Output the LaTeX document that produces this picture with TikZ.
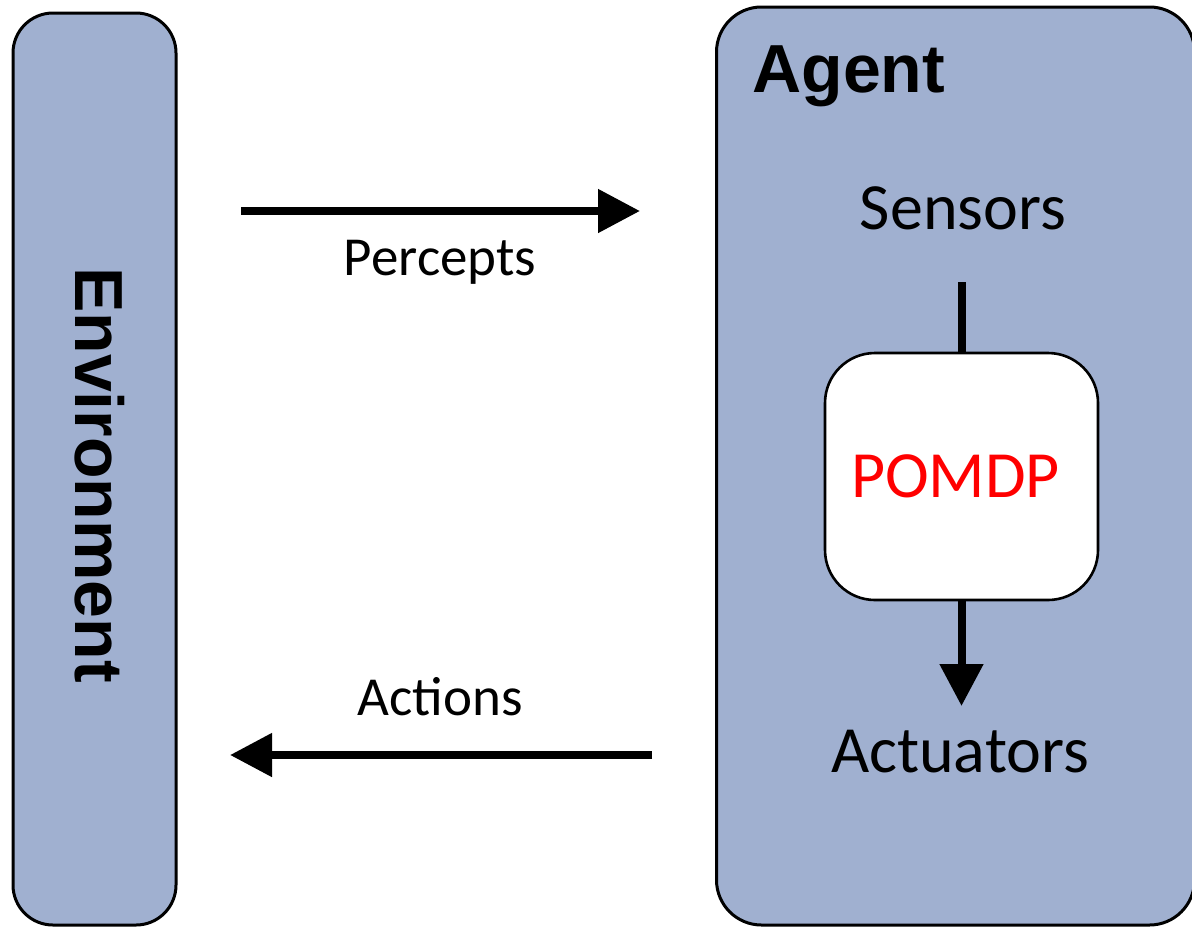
\documentclass[tikz,border=0pt]{standalone}
\usepackage{fontspec}
\setmainfont{Carlito}
\newfontfamily\headfont{Liberation Sans}
\usetikzlibrary{arrows.meta}
\definecolor{panel}{RGB}{160,176,208}
\tikzset{
  panelbox/.style={draw=black, line width=1.5pt, fill=panel, inner sep=0pt},
  heading/.style={font=\headfont\bfseries\fontsize{34pt}{37pt}\selectfont, inner sep=0pt},
  label/.style={font=\fontsize{33pt}{36pt}\selectfont, inner sep=0pt},
  flowlabel/.style={font=\fontsize{27.5pt}{30pt}\selectfont, inner sep=0pt},
  shaft/.style={line width=4pt},
  flow/.style={shaft, -{Triangle[length=21pt,width=21pt]}}
}
\begin{document}
\begin{tikzpicture}[x=0.5pt, y=-0.5pt]
  \useasboundingbox (0,0) rectangle (1192,927);
  \begin{scope}
  \clip (0,0) rectangle (1192,927);

  % the two blocks
  \node[panelbox, rounded corners=20pt, minimum width=81.5pt, minimum height=456pt]
    (env) at (94.5,469) {};
  \node[panelbox, rounded corners=22.5pt, minimum width=239pt, minimum height=459pt]
    (agent) at (955.5,466) {};

  \node[heading, rotate=-90] (envtitle) at (100,475) {Environment};
  \node[heading, anchor=base west] (agenttitle) at (752,92) {Agent};

  % inside the agent
  \node[label] (sensors) at (963,208) {Sensors};
  \node[draw=black, line width=1.3pt, fill=white, rounded corners=25pt,
        minimum width=136.5pt, minimum height=123.5pt, inner sep=0pt,
        font=\fontsize{33pt}{36pt}\selectfont, text=red]
    (pomdp) at (961.5,476.5) {\hspace*{-6pt}\raisebox{-2.5pt}{POMDP}};
  \node[label] (actuators) at (960,752) {Actuators};

  \coordinate (sensout) at (961.5,282);
  \coordinate (acttip) at (961.5,706);
  \draw[shaft] (sensout) -- (pomdp.north);
  \draw[flow] (pomdp.south) -- (acttip);

  % exchange with the environment
  \coordinate (perceptsfrom) at (241,211);
  \coordinate (perceptsto) at (640,211);
  \coordinate (actionsfrom) at (652,755);
  \coordinate (actionsto) at (230,755);
  \draw[flow] (perceptsfrom) -- (perceptsto);
  \draw[flow] (actionsfrom) -- (actionsto);
  \node[flowlabel] (percepts) at (440,262) {Percepts};
  \node[flowlabel] (actions) at (440,697) {Actions};
  \end{scope}
\end{tikzpicture}
\end{document}
